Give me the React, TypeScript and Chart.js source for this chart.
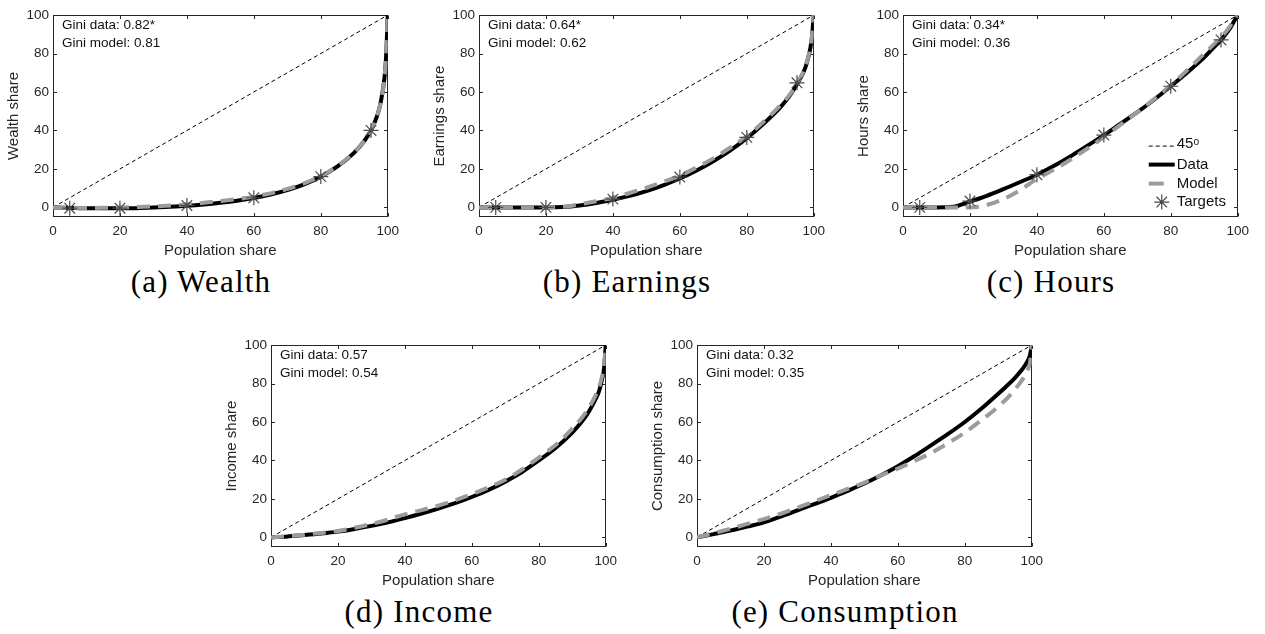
import { useEffect, useRef } from "react";
import { Chart, registerables } from "chart.js";

Chart.register(...registerables);

// Population share grid (percent) on which every Lorenz curve is sampled
const popShare = [0, 5, 10, 15, 20, 25, 30, 35, 40, 45, 50, 55, 60, 65, 70, 75, 80, 85, 90, 93, 95, 97, 98, 99, 99.5, 100];
// Percentiles used as calibration targets
const targetShare = [5, 20, 40, 60, 80, 95];
// Equality line end points
const equalityLine = [0, 100];
const xTickValues = [0, 20, 40, 60, 80, 100];
const yTickValues = [0, 20, 40, 60, 80, 100];

// Wealth
const wealthData = [0, -0.3, -0.5, -0.5, -0.5, -0.4, -0.1, 0.3, 0.8, 1.5, 2.4, 3.5, 4.9, 6.7, 9.0, 12.0, 16.0, 21.3, 28.5, 34.5, 40.0, 48.5, 55.5, 67.0, 78.0, 100];
const wealthModel = [0, -0.2, -0.3, -0.2, 0, 0.2, 0.5, 1.0, 1.6, 2.4, 3.3, 4.3, 5.6, 7.3, 9.6, 12.5, 16.3, 21.5, 28.7, 34.5, 40.0, 48.5, 55.5, 67.0, 78.0, 100];
const wealthTargets = [-0.4, -0.4, 1.0, 5.0, 16.0, 40.0];

// Earnings
const earningsData = [0, 0, 0, 0, 0, 0.2, 1.0, 2.3, 4.0, 6.0, 8.5, 11.5, 15.0, 19.2, 24.0, 29.5, 36.0, 43.5, 52.0, 58.5, 64.0, 70.5, 75.5, 83.0, 89.0, 100];
const earningsModel = [0, 0, 0, 0, 0, 0.3, 1.6, 3.2, 5.0, 7.5, 10.2, 13.2, 16.5, 20.8, 25.5, 31.0, 37.0, 44.5, 53.0, 59.0, 64.5, 71.0, 76.0, 83.5, 89.5, 100];
const earningsTargets = [0, 0, 4.3, 15.8, 36.4, 64.8];

// Hours
const hoursData = [0, 0, 0, 0.3, 3.0, 6.0, 9.5, 13.2, 17.0, 21.5, 26.5, 32.0, 37.5, 43.5, 49.5, 56.0, 63.0, 70.3, 78.0, 83.5, 87.0, 91.5, 94.0, 97.0, 98.5, 100];
const hoursModel = [0, 0, 0, 0, 0, 1.2, 4.3, 9.0, 14.8, 19.5, 24.8, 30.5, 36.5, 43.0, 49.5, 56.3, 63.5, 71.5, 80.0, 85.0, 88.5, 92.5, 95.0, 97.5, 98.8, 100];
const hoursTargets = [0, 3.3, 17.0, 37.6, 63.0, 87.1];

// Income
const incomeData = [0, 0.5, 1.2, 2.0, 3.0, 4.4, 6.0, 7.8, 10.0, 12.4, 15.0, 17.8, 21.0, 24.7, 29.0, 34.0, 40.0, 46.5, 54.5, 60.5, 65.5, 72.0, 76.0, 83.0, 88.0, 100];
const incomeModel = [0, 0.6, 1.4, 2.3, 3.3, 5.0, 7.0, 9.3, 12.0, 14.2, 16.5, 19.3, 22.5, 26.0, 30.0, 35.3, 41.5, 48.0, 56.5, 62.5, 67.5, 74.0, 78.0, 84.5, 89.0, 100];

// Consumption
const consumptionData = [0, 1.7, 3.5, 5.6, 7.8, 10.8, 14.0, 17.3, 20.6, 24.2, 28.0, 32.3, 37.0, 42.3, 48.0, 53.8, 60.0, 67.0, 74.7, 79.5, 83.0, 87.0, 89.5, 92.5, 95.0, 100];
const consumptionModel = [0, 2.2, 4.5, 7.0, 9.5, 12.3, 15.5, 18.7, 22.0, 25.2, 28.5, 32.3, 35.8, 39.7, 44.0, 49.0, 54.5, 61.0, 68.0, 73.0, 77.0, 81.5, 84.5, 88.0, 91.0, 100];

const giniData = ["0.82*", "0.64*", "0.34*", "0.57", "0.32"];
const giniModel = ["0.81", "0.62", "0.36", "0.54", "0.35"];

const SANS = "'Liberation Sans', Arial, Helvetica, sans-serif";
const AXIS_COLOR = "#262626";
const MODEL_COLOR = "#9c9c9c";
const TARGET_COLOR = "#4a4a4a";

// Geometry of each plot box
const PLOT_W = 338;
const PLOT_H = 204;
const Y_AXIS_W = 50;
const X_AXIS_H = 45;
const PAD_TOP = 10;
const PAD_RIGHT = 14;

type PanelSpec = {
  yLabel: string;
  caption: string;
  data: number[];
  model: number[];
  targets?: number[];
  giniIdx: number;
  legend: boolean;
  plotLeft: number;
  plotTop: number;
};

const panels: PanelSpec[] = [
  { yLabel: "Wealth share", caption: "(a) Wealth", data: wealthData, model: wealthModel, targets: wealthTargets, giniIdx: 0, legend: false, plotLeft: 53, plotTop: 13 },
  { yLabel: "Earnings share", caption: "(b) Earnings", data: earningsData, model: earningsModel, targets: earningsTargets, giniIdx: 1, legend: false, plotLeft: 479, plotTop: 13 },
  { yLabel: "Hours share", caption: "(c) Hours", data: hoursData, model: hoursModel, targets: hoursTargets, giniIdx: 2, legend: true, plotLeft: 903, plotTop: 13 },
  { yLabel: "Income share", caption: "(d) Income", data: incomeData, model: incomeModel, giniIdx: 3, legend: false, plotLeft: 271, plotTop: 343 },
  { yLabel: "Consumption share", caption: "(e) Consumption", data: consumptionData, model: consumptionModel, giniIdx: 4, legend: false, plotLeft: 697, plotTop: 343 },
];

function drawStar(ctx: CanvasRenderingContext2D, cx: number, cy: number, r: number) {
  ctx.beginPath();
  ctx.moveTo(cx - r, cy);
  ctx.lineTo(cx + r, cy);
  ctx.moveTo(cx, cy - r);
  ctx.lineTo(cx, cy + r);
  const d = r * Math.SQRT1_2;
  ctx.moveTo(cx - d, cy - d);
  ctx.lineTo(cx + d, cy + d);
  ctx.moveTo(cx - d, cy + d);
  ctx.lineTo(cx + d, cy - d);
  ctx.stroke();
}

function LorenzPanel({ spec }: { spec: PanelSpec }) {
  const ref = useRef<HTMLCanvasElement | null>(null);

  useEffect(() => {
    const canvas = ref.current;
    if (!canvas) return;

    const framePlugin = {
      id: "frame",
      beforeDatasetsDraw(chart: any) {
        const { ctx, chartArea } = chart;
        const { left, right, top, bottom } = chartArea;
        const xs = chart.scales.x;
        const ys = chart.scales.y;
        ctx.save();
        ctx.strokeStyle = AXIS_COLOR;
        ctx.lineWidth = 1;
        const L = Math.round(left) + 0.5;
        const R = Math.round(right) - 0.5;
        const T = Math.round(top) + 0.5;
        const B = Math.round(bottom) - 0.5;
        ctx.strokeRect(L, T, R - L, B - T);
        const tl = 3.5;
        ctx.beginPath();
        for (const v of xTickValues) {
          const px = Math.round(xs.getPixelForValue(v)) + 0.5;
          ctx.moveTo(px, B);
          ctx.lineTo(px, B - tl);
          ctx.moveTo(px, T);
          ctx.lineTo(px, T + tl);
        }
        for (const v of yTickValues) {
          const py = Math.round(ys.getPixelForValue(v)) + 0.5;
          ctx.moveTo(L, py);
          ctx.lineTo(L + tl, py);
          ctx.moveTo(R, py);
          ctx.lineTo(R - tl, py);
        }
        ctx.stroke();
        ctx.restore();
      },
      afterDraw(chart: any) {
        const { ctx, chartArea } = chart;
        const { left, right, top } = chartArea;
        ctx.save();
        ctx.fillStyle = "#111";
        ctx.font = `13.5px ${SANS}`;
        ctx.textAlign = "left";
        ctx.textBaseline = "middle";
        ctx.fillText(`Gini data: ${giniData[spec.giniIdx]}`, left + 9, top + 10.5);
        ctx.fillText(`Gini model: ${giniModel[spec.giniIdx]}`, left + 9, top + 28);

        if (spec.legend) {
          const x1 = right - 89;
          const x2 = right - 63;
          const tx = right - 61;
          const rows = [top + 129, top + 149.5, top + 168.5, top + 187];
          ctx.font = `15px ${SANS}`;
          ctx.fillStyle = "#111";
          // 45 degree line sample
          ctx.strokeStyle = "#000";
          ctx.lineWidth = 1;
          ctx.setLineDash([4, 3]);
          ctx.beginPath();
          ctx.moveTo(x1, rows[0] + 2);
          ctx.lineTo(x2, rows[0] + 2);
          ctx.stroke();
          ctx.setLineDash([]);
          ctx.fillText("45ᵒ", tx, rows[0]);
          // data sample
          ctx.lineWidth = 4;
          ctx.strokeStyle = "#000";
          ctx.beginPath();
          ctx.moveTo(x1, rows[1]);
          ctx.lineTo(x2, rows[1]);
          ctx.stroke();
          ctx.fillText("Data", tx, rows[1]);
          // model sample
          ctx.strokeStyle = MODEL_COLOR;
          ctx.beginPath();
          ctx.moveTo(x1, rows[2]);
          ctx.lineTo(x1 + 15, rows[2]);
          ctx.stroke();
          ctx.fillText("Model", tx, rows[2]);
          // targets sample
          ctx.strokeStyle = TARGET_COLOR;
          ctx.lineWidth = 1.2;
          drawStar(ctx, (x1 + x2) / 2, rows[3], 7.5);
          ctx.fillText("Targets", tx, rows[3]);
        }
        ctx.restore();
      },
    };

    const datasets: any[] = [
      {
        label: "45ᵒ",
        data: equalityLine.map((v) => ({ x: v, y: v })),
        borderColor: "#000",
        borderWidth: 1,
        borderDash: [4, 3],
        pointRadius: 0,
        order: 3,
      },
      {
        label: "Data",
        data: popShare.map((x, i) => ({ x, y: spec.data[i] })),
        borderColor: "#000",
        borderWidth: 4,
        pointRadius: 0,
        cubicInterpolationMode: "monotone",
        order: 2,
      },
      {
        label: "Model",
        data: popShare.map((x, i) => ({ x, y: spec.model[i] })),
        borderColor: MODEL_COLOR,
        borderWidth: 4,
        borderDash: [13, 8],
        borderCapStyle: "butt",
        pointRadius: 0,
        cubicInterpolationMode: "monotone",
        order: 1,
      },
    ];
    if (spec.targets) {
      datasets.push({
        label: "Targets",
        data: targetShare.map((x, i) => ({ x, y: spec.targets![i] })),
        showLine: false,
        pointStyle: "star",
        pointRadius: 7.5,
        pointBorderWidth: 1.2,
        pointBorderColor: TARGET_COLOR,
        pointBackgroundColor: "transparent",
        borderColor: TARGET_COLOR,
        order: 0,
      });
    }

    const tickFont = { family: SANS, size: 13.5 };
    const titleFont = { family: SANS, size: 15 };

    const chart = new Chart(canvas, {
      type: "line",
      data: { datasets },
      options: {
        animation: false,
        responsive: false,
        devicePixelRatio: 1,
        events: [],
        layout: { padding: { top: PAD_TOP, right: PAD_RIGHT, left: 0, bottom: 0 } },
        plugins: { legend: { display: false }, tooltip: { enabled: false } },
        scales: {
          x: {
            type: "linear",
            min: 0,
            max: 100,
            afterBuildTicks: (s: any) => {
              s.ticks = xTickValues.map((value) => ({ value }));
            },
            afterFit: (s: any) => {
              s.height = X_AXIS_H;
            },
            ticks: { color: AXIS_COLOR, font: tickFont, padding: 6, maxRotation: 0, autoSkip: false },
            grid: { display: false, drawTicks: false },
            border: { display: false },
            title: { display: true, text: "Population share", color: AXIS_COLOR, font: titleFont, padding: { top: 0, bottom: 2 } },
          },
          y: {
            type: "linear",
            min: -5,
            max: 100,
            afterBuildTicks: (s: any) => {
              s.ticks = yTickValues.map((value) => ({ value }));
            },
            afterFit: (s: any) => {
              s.width = Y_AXIS_W;
            },
            ticks: { color: AXIS_COLOR, font: tickFont, padding: 4, autoSkip: false },
            grid: { display: false, drawTicks: false },
            border: { display: false },
            title: { display: true, text: spec.yLabel, color: AXIS_COLOR, font: titleFont, padding: { top: 2, bottom: 0 } },
          },
        },
      } as any,
      plugins: [framePlugin],
    });

    return () => chart.destroy();
  }, [spec]);

  const cw = Y_AXIS_W + PLOT_W + PAD_RIGHT;
  const ch = PAD_TOP + PLOT_H + X_AXIS_H;
  return (
    <>
      <canvas
        ref={ref}
        width={cw}
        height={ch}
        style={{ position: "absolute", left: spec.plotLeft - Y_AXIS_W, top: spec.plotTop - PAD_TOP, width: cw, height: ch }}
      />
      <div
        style={{
          position: "absolute",
          left: spec.plotLeft + PLOT_W / 2 - 21,
          top: spec.plotTop + 268,
          transform: "translate(-50%, -50%)",
          fontFamily: "'Liberation Serif', 'Times New Roman', serif",
          fontSize: 31,
          letterSpacing: "1.2px",
          lineHeight: 1,
          whiteSpace: "nowrap",
          color: "#000",
        }}
      >
        {spec.caption}
      </div>
    </>
  );
}

export default function App() {
  return (
    <div style={{ position: "absolute", left: 0, top: 0, width: 1265, height: 634, background: "#fff", overflow: "hidden" }}>
      {panels.map((p) => (
        <LorenzPanel key={p.caption} spec={p} />
      ))}
    </div>
  );
}
